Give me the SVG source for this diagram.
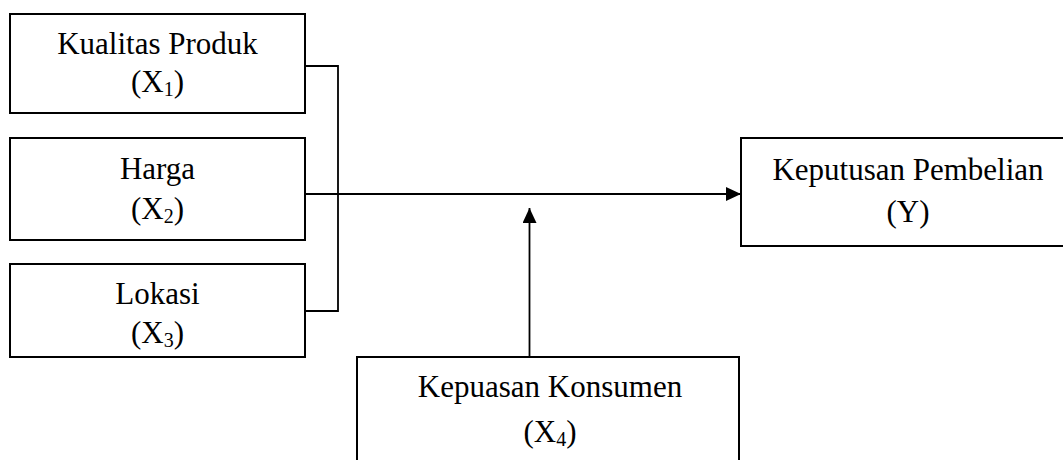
<svg xmlns="http://www.w3.org/2000/svg" width="1063" height="460" viewBox="0 0 1063 460">
<style>
.box{fill:#fff;stroke:#000;stroke-width:2}
.t{font-family:"Liberation Serif","Times New Roman",serif;font-size:31px;fill:#000;text-anchor:middle}
.sub{font-size:20px}
.ln{fill:none;stroke:#000;stroke-width:1.8}
</style>
<defs>
<marker id="ah" markerWidth="16" markerHeight="14" refX="15" refY="7" orient="auto" markerUnits="userSpaceOnUse">
<path d="M0,0 L15,7 L0,14 Z" fill="#000"/>
</marker>
</defs>
<rect width="1063" height="460" fill="#fff"/>
<g id="connectors">
<polyline class="ln" points="305,66 338,66 338,311 305,311"/>
<line class="ln" x1="305" y1="194" x2="741" y2="194" stroke-width="2.4" marker-end="url(#ah)"/>
<line class="ln" x1="529.5" y1="357" x2="529.5" y2="208" marker-end="url(#ah)"/>
</g>
<g id="x1">
<rect class="box" x="10" y="14" width="295" height="99"/>
<text class="t" x="157.5" y="54">Kualitas Produk</text>
<text class="t" x="157.5" y="92">(X<tspan class="sub" dy="4">1</tspan><tspan dy="-4">)</tspan></text>
</g>
<g id="x2">
<rect class="box" x="10" y="138" width="295" height="102"/>
<text class="t" x="157.5" y="179">Harga</text>
<text class="t" x="157.5" y="219">(X<tspan class="sub" dy="4">2</tspan><tspan dy="-4">)</tspan></text>
</g>
<g id="x3">
<rect class="box" x="10" y="264" width="295" height="93"/>
<text class="t" x="157.5" y="304">Lokasi</text>
<text class="t" x="157.5" y="343">(X<tspan class="sub" dy="4">3</tspan><tspan dy="-4">)</tspan></text>
</g>
<g id="y">
<rect class="box" x="741" y="138" width="334" height="108"/>
<text class="t" x="908" y="180">Keputusan Pembelian</text>
<text class="t" x="908" y="222">(Y)</text>
</g>
<g id="x4">
<rect class="box" x="357" y="357" width="382" height="120"/>
<text class="t" x="550" y="397">Kepuasan Konsumen</text>
<text class="t" x="550" y="442">(X<tspan class="sub" dy="4">4</tspan><tspan dy="-4">)</tspan></text>
</g>
</svg>
